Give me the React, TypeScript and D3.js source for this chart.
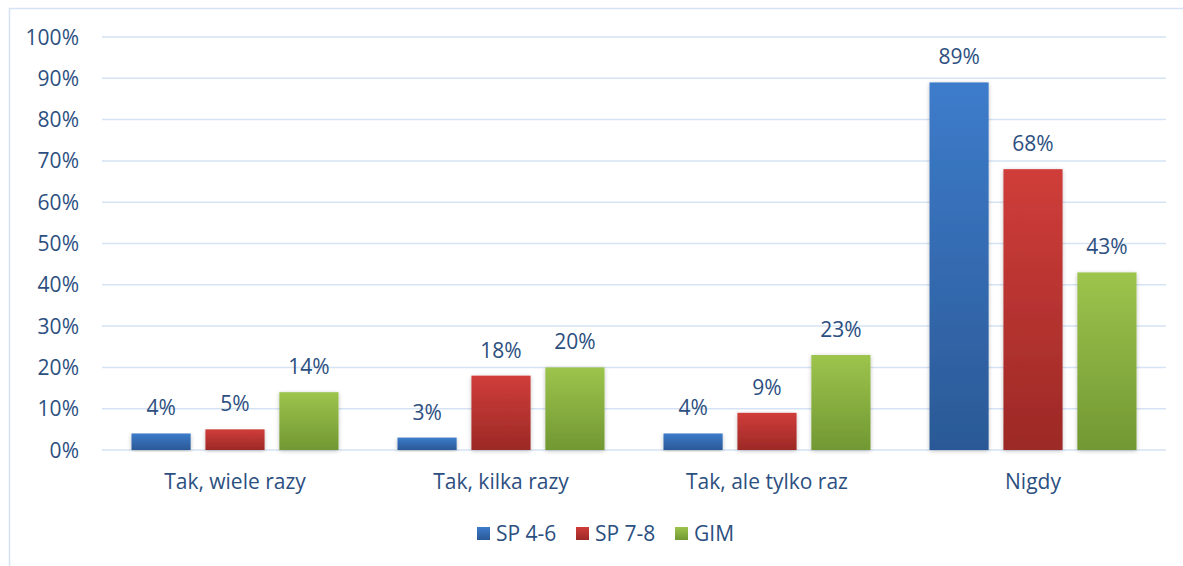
import React from "react";
import * as d3 from "d3";

const categories = ["Tak, wiele razy", "Tak, kilka razy", "Tak, ale tylko raz", "Nigdy"];
const seriesNames = ["SP 4-6", "SP 7-8", "GIM"];
const sp46 = [4, 3, 4, 89];
const sp78 = [5, 18, 9, 68];
const gim = [14, 20, 23, 43];
const yTicks = [0, 10, 20, 30, 40, 50, 60, 70, 80, 90, 100];

const colors = [
  { top: "#3d7ccb", bottom: "#2b5996" },
  { top: "#d03d3a", bottom: "#9c2926" },
  { top: "#9dc44c", bottom: "#719833" },
];

const W = 1183;
const H = 566;
const M = { left: 102, right: 1166, top: 37, bottom: 450 };
const textColor = "#2c4f7f";
const font = "'Open Sans', 'Noto Sans', sans-serif";
const fs = 21;

export default function App() {
  const series = [sp46, sp78, gim];
  const x0 = d3.scaleBand<string>().domain(categories).range([M.left, M.right]).paddingInner(0).paddingOuter(0);
  const x1 = d3
    .scaleBand<string>()
    .domain(seriesNames)
    .range([29.5, x0.bandwidth() - 29.5])
    .paddingInner(0.2)
    .paddingOuter(0);
  const y = d3.scaleLinear().domain([0, 100]).range([M.bottom, M.top]);

  const legendItems = [
    { x: 477, name: seriesNames[0] },
    { x: 576, name: seriesNames[1] },
    { x: 675, name: seriesNames[2] },
  ];

  return (
    <svg width={W} height={H} style={{ position: "absolute", left: 0, top: 0, background: "#fff" }}>
      <defs>
        {colors.map((c, i) => (
          <linearGradient key={i} id={`g${i}`} x1="0" y1="0" x2="0" y2="1">
            <stop offset="0%" stopColor={c.top} />
            <stop offset="100%" stopColor={c.bottom} />
          </linearGradient>
        ))}
        <filter id="sh" x="-20%" y="-5%" width="140%" height="115%">
          <feGaussianBlur in="SourceAlpha" stdDeviation="2" />
          <feOffset dx="0" dy="1" result="b" />
          <feComponentTransfer>
            <feFuncA type="linear" slope="0.25" />
          </feComponentTransfer>
          <feMerge>
            <feMergeNode />
            <feMergeNode in="SourceGraphic" />
          </feMerge>
        </filter>
      </defs>
      <rect x={9.5} y={8.5} width={W + 20} height={H + 20} fill="#fff" stroke="#d5e2f3" strokeWidth={1.5} />
      {yTicks.map((t) => (
        <g key={t}>
          <line x1={M.left} x2={M.right} y1={y(t)} y2={y(t)} stroke="#d6e3f4" strokeWidth={1.5} />
          <text x={79} y={y(t)} dy="0.36em" textAnchor="end" fontFamily={font} fontSize={fs} fill={textColor}>
            {t}%
          </text>
        </g>
      ))}
      {categories.map((cat, ci) => (
        <g key={cat} transform={`translate(${x0(cat)},0)`}>
          {series.map((vals, si) => {
            const bx = x1(seriesNames[si])!;
            const bw = x1.bandwidth();
            const v = vals[ci];
            return (
              <g key={si}>
                <rect x={bx} y={y(v)} width={bw} height={y(0) - y(v)} fill={`url(#g${si})`} filter="url(#sh)" />
                <text
                  x={bx + bw / 2}
                  y={y(v) - 18}
                  textAnchor="middle"
                  fontFamily={font}
                  fontSize={fs}
                  fill={textColor}
                >
                  {v}%
                </text>
              </g>
            );
          })}
          <text
            x={x0.bandwidth() / 2}
            y={489}
            textAnchor="middle"
            fontFamily={font}
            fontSize={fs}
            fill={textColor}
          >
            {cat}
          </text>
        </g>
      ))}
      {legendItems.map((it, i) => (
        <g key={it.name}>
          <rect x={it.x} y={527} width={13} height={13} fill={`url(#g${i})`} />
          <text x={it.x + 19} y={541} fontFamily={font} fontSize={fs} fill={textColor}>
            {it.name}
          </text>
        </g>
      ))}
    </svg>
  );
}
